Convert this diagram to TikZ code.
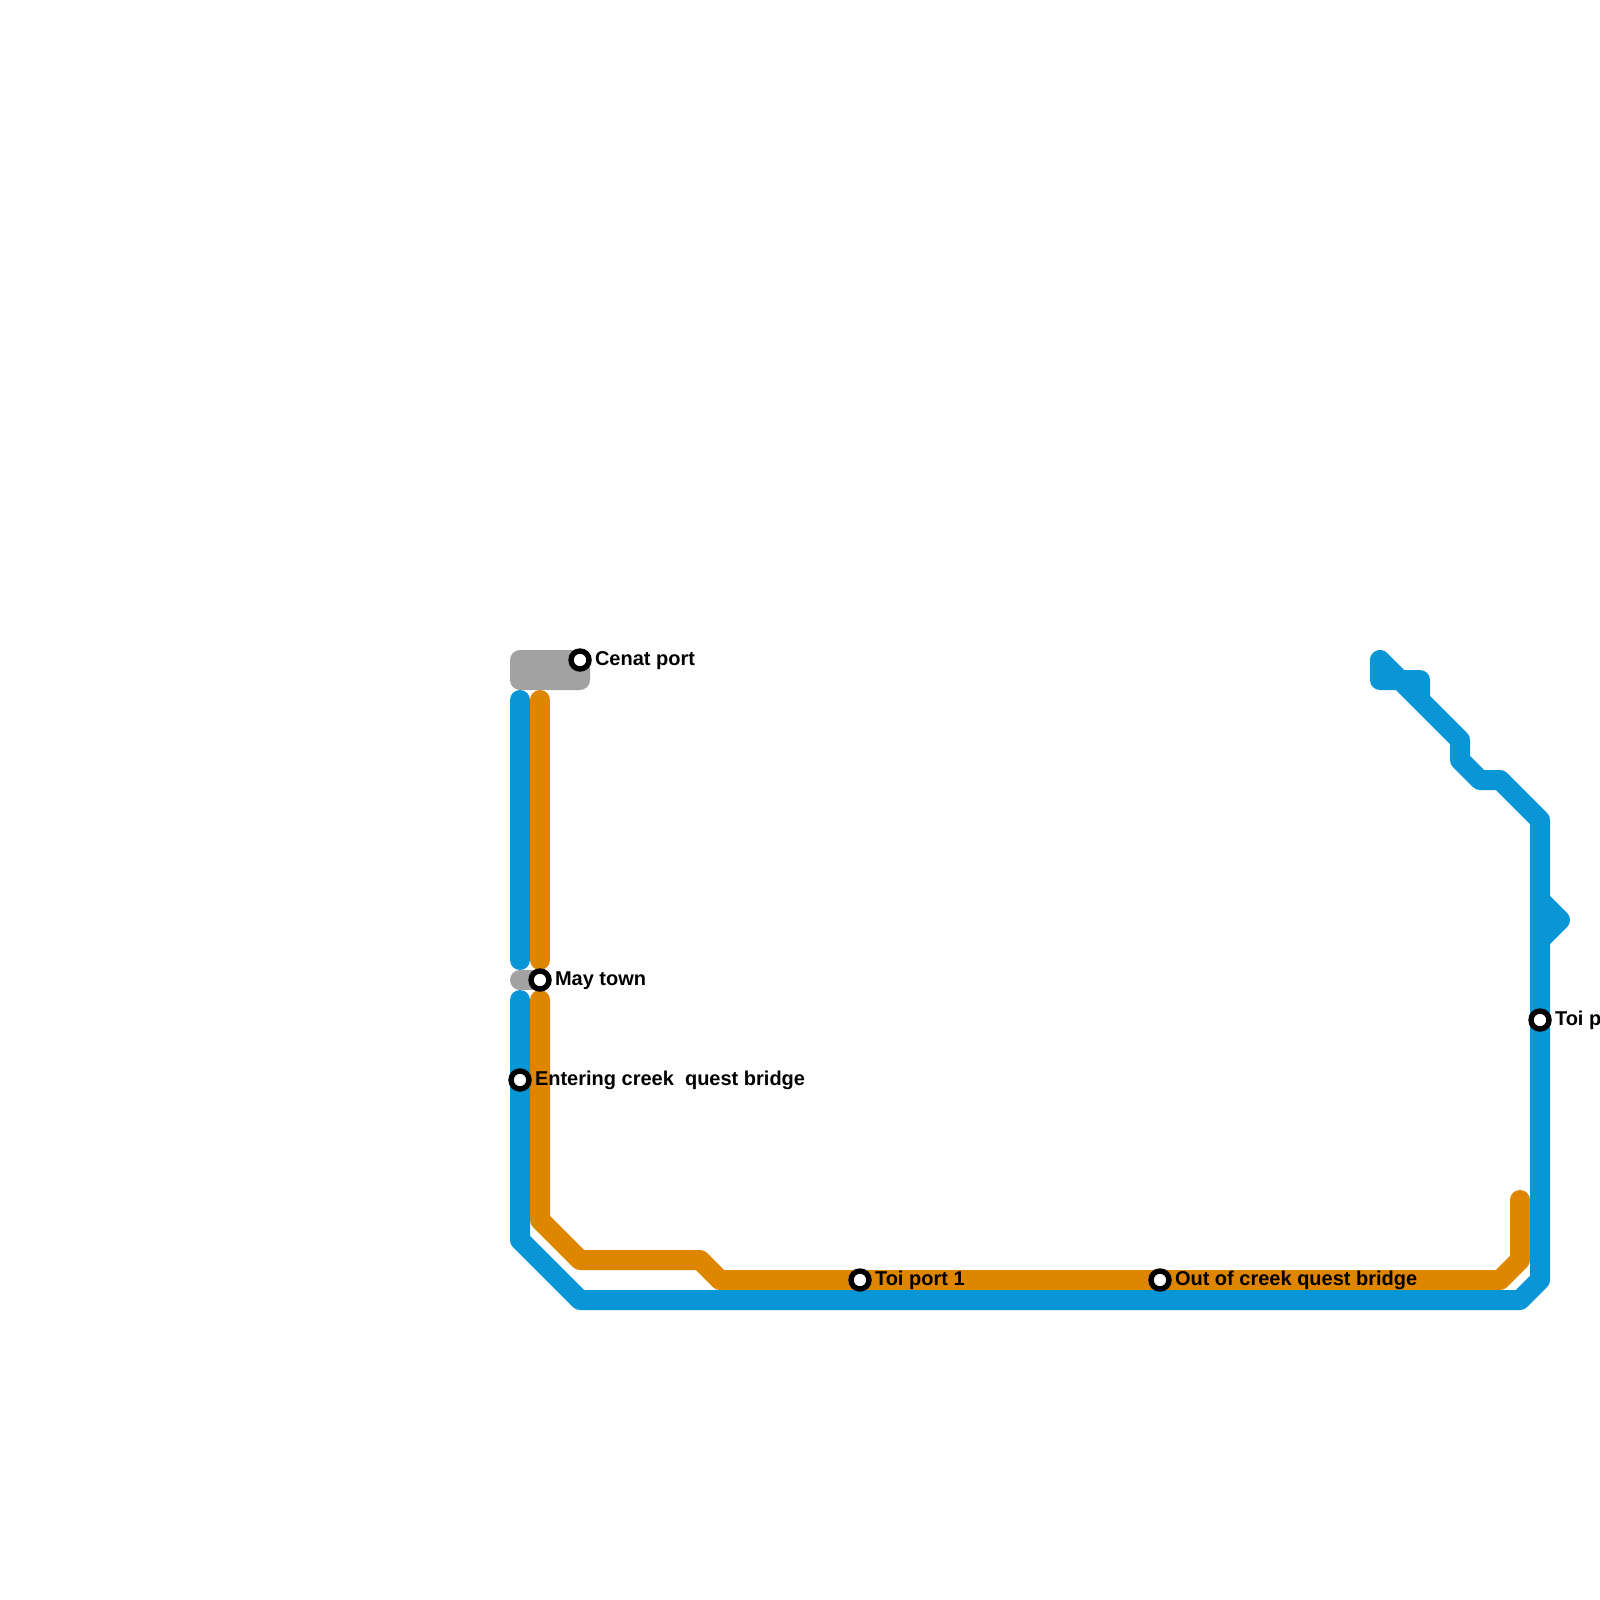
\documentclass[tikz,border=0pt]{standalone}
\usepackage{fontspec}
\setmainfont{Liberation Sans}
\definecolor{lineblue}{HTML}{0896D7}
\definecolor{lineorange}{HTML}{DF8600}
\definecolor{linegray}{HTML}{A2A2A2}
\tikzset{
  metro/.style={line width=20pt,line cap=round,line join=round},
  stationring/.style={circle,draw=black,fill=white,line width=5.4pt,minimum size=18pt,inner sep=0pt,outer sep=0pt},
  stationlabel/.style={anchor=base west,inner sep=0pt,outer sep=0pt,font=\fontsize{20}{24}\selectfont\bfseries,text=black},
  grayblock/.style={fill=linegray,rounded corners=10pt,minimum width=80pt,minimum height=40pt,inner sep=0pt,outer sep=0pt}
}
\begin{document}
\begin{tikzpicture}[x=1pt,y=-1pt]
\useasboundingbox (0,0) rectangle (1600,1600);
\clip (0,0) rectangle (1600,1600);
% named points
\coordinate (bA) at (520,700); \coordinate (bB) at (520,960);
\coordinate (oA) at (540,700); \coordinate (oB) at (540,960);
\coordinate (g1) at (520,980); \coordinate (g2) at (540,980);
\coordinate (o1) at (540,1000); \coordinate (o2) at (540,1220); \coordinate (o3) at (580,1260);
\coordinate (o4) at (700,1260); \coordinate (o5) at (720,1280); \coordinate (o6) at (1500,1280);
\coordinate (o7) at (1520,1260); \coordinate (o8) at (1520,1200);
\coordinate (b1) at (520,1000); \coordinate (b2) at (520,1240); \coordinate (b3) at (580,1300);
\coordinate (b4) at (1520,1300); \coordinate (b5) at (1540,1280); \coordinate (b6) at (1540,820);
\coordinate (b7) at (1500,780); \coordinate (b8) at (1480,780); \coordinate (b9) at (1460,760);
\coordinate (b10) at (1460,740); \coordinate (b11) at (1380,660); \coordinate (b12) at (1380,680);
\coordinate (b13) at (1420,680); \coordinate (b14) at (1420,700);
\coordinate (k1) at (1540,900); \coordinate (k2) at (1560,920); \coordinate (k3) at (1540,940);
% gray
\node[grayblock] (cenatblock) at (550,670) {};
\draw[metro,linegray] (g1) -- (g2);
% orange
\draw[metro,lineorange] (oA) -- (oB);
\draw[metro,lineorange] (o1) -- (o2) -- (o3) -- (o4) -- (o5) -- (o6) -- (o7) -- (o8);
% blue
\draw[metro,lineblue] (bA) -- (bB);
\draw[metro,lineblue] (b1) -- (b2) -- (b3) -- (b4) -- (b5) -- (b6) -- (b7) -- (b8) -- (b9) -- (b10) -- (b11) -- (b12) -- (b13) -- (b14);
\draw[metro,lineblue] (k1) -- (k2) -- (k3);
% stations
\node[stationring] (cenat) at (580,660) {};
\node[stationring] (may) at (540,980) {};
\node[stationring] (entering) at (520,1080) {};
\node[stationring] (toi1) at (860,1280) {};
\node[stationring] (outcreek) at (1160,1280) {};
\node[stationring] (toip) at (1540,1020) {};
% labels
\node[stationlabel] (lcenat) at (595,665) {Cenat port};
\node[stationlabel] (lmay) at (555,985) {May town};
\node[stationlabel] (lentering) at (535,1085) {Entering creek\ \ quest bridge};
\node[stationlabel] (ltoi1) at (875,1285) {Toi port 1};
\node[stationlabel] (loutcreek) at (1175,1285) {Out of creek quest bridge};
\node[stationlabel] (ltoip) at (1555,1025) {Toi p};
\end{tikzpicture}
\end{document}
